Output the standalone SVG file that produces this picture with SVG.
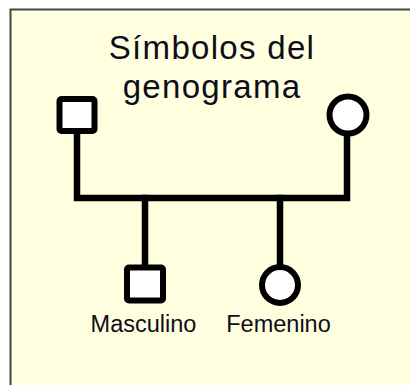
<svg xmlns="http://www.w3.org/2000/svg" width="410" height="385" viewBox="0 0 410 385">
  <style>
    .sym { fill: #ffffff; stroke: #000000; stroke-width: 6; }
    .conn { fill: none; stroke: #000000; stroke-width: 6.5; stroke-linecap: square; stroke-linejoin: miter; }
    .title { font-family: "Liberation Sans", Arial, sans-serif; font-size: 33px; letter-spacing: 1.3px; fill: #0d0d1a; text-anchor: middle; }
    .label { font-family: "Liberation Sans", Arial, sans-serif; font-size: 23.5px; fill: #0d0d1a; text-anchor: middle; }
  </style>
  <rect x="0" y="0" width="410" height="385" fill="#ffffff"/>
  <rect id="frame" x="10.5" y="9.5" width="420" height="400" fill="#ffffdf" stroke="#444444" stroke-width="2"/>
  <g id="title">
    <text class="title" x="212" y="59">Símbolos del</text>
    <text class="title" x="212" y="97.5">genograma</text>
  </g>
  <g id="connectors">
    <path class="conn" d="M77,134 V198 H347 V136"/>
    <path class="conn" d="M145,198 V265"/>
    <path class="conn" d="M280,198 V264"/>
  </g>
  <g id="father">
    <rect class="sym" x="59.5" y="99" width="35" height="32" rx="2"/>
  </g>
  <g id="mother">
    <circle class="sym" cx="348" cy="115" r="18.5"/>
  </g>
  <g id="son">
    <rect class="sym" x="127" y="267.5" width="36" height="33" rx="2"/>
    <text class="label" x="143.5" y="332">Masculino</text>
  </g>
  <g id="daughter">
    <circle class="sym" cx="280" cy="285" r="18"/>
    <text class="label" x="278.5" y="332">Femenino</text>
  </g>
</svg>
